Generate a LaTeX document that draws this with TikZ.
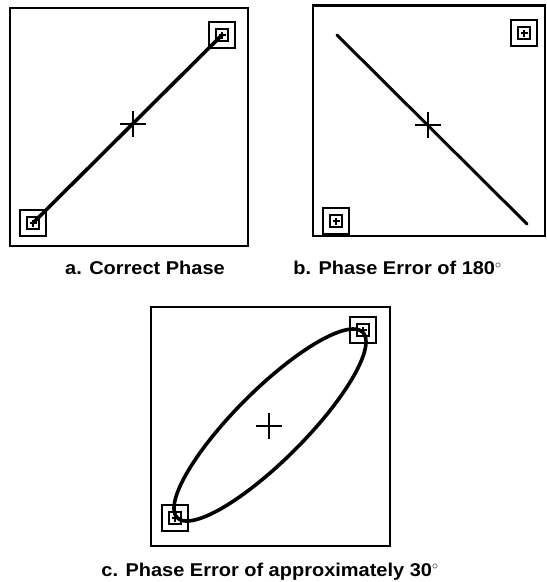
\documentclass[tikz,border=0pt]{standalone}
\usepackage{fontspec}
\newfontfamily\capfont[FakeStretch=1.08]{Liberation Sans}

\begin{document}
\begin{tikzpicture}[x=1pt, y=-1pt,
  frame/.style={line width=2.2pt},
  trace/.style={line width=3.6pt, line cap=round},
  crossline/.style={line width=2pt},
  marker/.style={draw, line width=2.2pt, minimum size=26pt, inner sep=0pt,
    path picture={
      \draw[line width=2.4pt] ([shift={(-6,-6)}]path picture bounding box.center) rectangle ++(12,12);
      \draw[line width=1.8pt] ([shift={(-3.5,0)}]path picture bounding box.center) -- ++(7,0)
        ([shift={(0,-3.5)}]path picture bounding box.center) -- ++(0,7);
    }},
  caption/.style={anchor=base, font=\capfont\bfseries\fontsize{18.5}{21}\selectfont}]
\useasboundingbox (0,0) rectangle (547,582);

\draw[frame] (10,8) rectangle (248,246);
\node[marker] (a1) at (33,223) {};
\node[marker] (a2) at (222,35) {};
\draw[trace] (a1.center) -- (a2.center);
\coordinate (ca) at (133,124);
\draw[crossline] (ca) +(-13,0) -- +(13,0) (ca) +(0,-13) -- +(0,13);
\node[caption] (capa) at (145,274.5) {a. Correct Phase};

\draw[frame] (313,5.5) rectangle (545,236);
\node[marker] (b1) at (336,221) {};
\node[marker] (b2) at (524,33) {};
\coordinate (bs) at (337,35);
\coordinate (be) at (527,224);
\draw[line width=3pt, line cap=round] (bs) -- (be);
\coordinate (cb) at (428,125);
\draw[crossline] (cb) +(-13,0) -- +(13,0) (cb) +(0,-13) -- +(0,13);
\node[caption] (capb) at (397.5,274.5) {b. Phase Error of 180$^\circ$};

\draw[frame] (151,307) rectangle (390,546);
\node[marker] (c1) at (175,518) {};
\node[marker] (c2) at (363,330) {};
\draw[trace] plot[domain=0:360, samples=120, smooth cycle] ({270+96*cos(\x)}, {425-96*cos(\x-30)});
\coordinate (cc) at (269,426);
\draw[crossline] (cc) +(-13,0) -- +(13,0) (cc) +(0,-13) -- +(0,13);
\node[caption] (capc) at (270,576) {c. Phase Error of approximately 30$^\circ$};
\end{tikzpicture}
\end{document}
